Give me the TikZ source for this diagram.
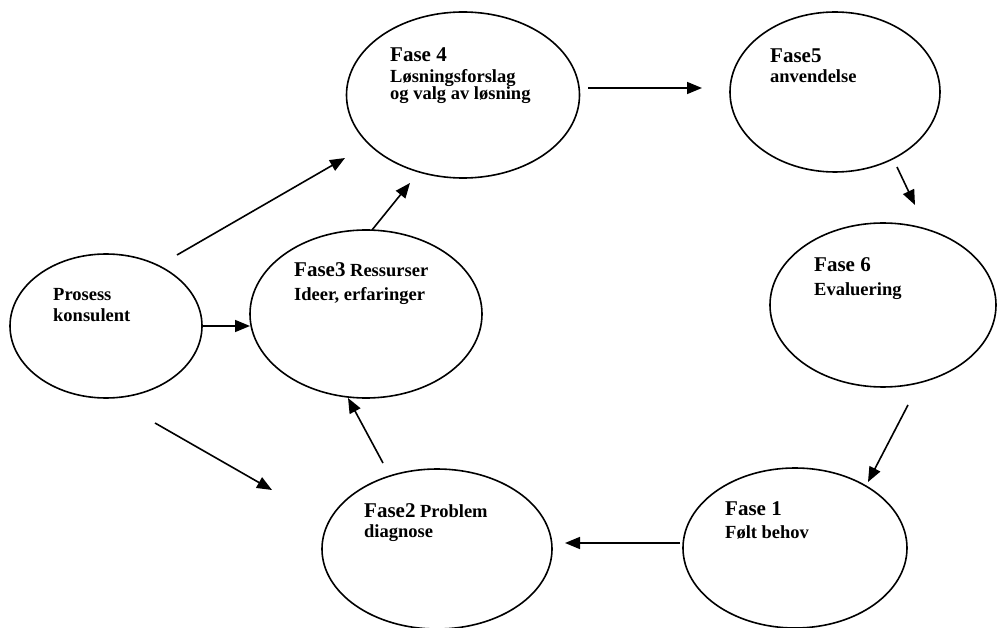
\documentclass[tikz,border=0pt]{standalone}
\usepackage{fontspec}
\setmainfont{Liberation Serif}
\usetikzlibrary{shapes.geometric,arrows.meta}
\begin{document}
\begin{tikzpicture}[x=1pt,y=-1pt,
  phase/.style={draw,ellipse,line width=1.6pt,inner sep=0pt},
  lbl/.style={anchor=base west,align=left,inner sep=0pt,font=\bfseries\fontsize{18.5}{20}\selectfont},
  conn/.style={line width=1.6pt,-{Triangle[length=15pt,width=12pt]}}]
\useasboundingbox (0,0) rectangle (997,628);
\newcommand{\fhead}[1]{{\fontsize{21}{21}\selectfont #1}}
% ellipses
\node[phase,minimum width=192pt,minimum height=144pt] (pk) at (106,326) {};
\node[phase,minimum width=232pt,minimum height=168pt] (f3) at (366,314) {};
\node[phase,minimum width=233pt,minimum height=166pt] (f4) at (463,95) {};
\node[phase,minimum width=210pt,minimum height=160pt] (f5) at (835,92) {};
\node[phase,minimum width=226pt,minimum height=164pt] (f6) at (883,305) {};
\node[phase,minimum width=224pt,minimum height=160pt] (f1) at (795,548) {};
\node[phase,minimum width=230pt,minimum height=160pt] (f2) at (437,549) {};
% labels (anchored at the baseline of their last line)
\node[lbl] (tpk) at (53,322) {Prosess\\[1pt]konsulent};
\node[lbl] (tf3) at (294,301) {\fhead{Fase3} Ressurser\\[4pt]Ideer, erfaringer};
\node[lbl] (tf4) at (390,100) {\fhead{Fase 4}\\[1pt]Løsningsforslag\\[-3pt]og valg av løsning};
\node[lbl] (tf5) at (770,83) {\fhead{Fase5}\\anvendelse};
\node[lbl] (tf6) at (814,296) {\fhead{Fase 6}\\[4pt]Evaluering};
\node[lbl] (tf1) at (725,538) {\fhead{Fase 1}\\[3pt]Følt behov};
\node[lbl] (tf2) at (364,537) {\fhead{Fase2} Problem\\diagnose};
% connector ends
\coordinate (a1s) at (177,255); \coordinate (a1e) at (345,158);
\coordinate (a2s) at (203,326); \coordinate (a2e) at (250,326);
\coordinate (a3s) at (155,423); \coordinate (a3e) at (272,490);
\coordinate (a4s) at (372,230); \coordinate (a4e) at (410,183);
\coordinate (a5s) at (383,463); \coordinate (a5e) at (348,398);
\coordinate (a6s) at (680,543); \coordinate (a6e) at (565,543);
\coordinate (a7s) at (908,405); \coordinate (a7e) at (868,482);
\coordinate (a8s) at (588,88);  \coordinate (a8e) at (702,88);
\coordinate (a9s) at (897,167); \coordinate (a9e) at (915,205);
\draw[conn] (a1s) -- (a1e);
\draw[conn] (a2s) -- (a2e);
\draw[conn] (a3s) -- (a3e);
\draw[conn] (a4s) -- (a4e);
\draw[conn] (a5s) -- (a5e);
\draw[conn] (a6s) -- (a6e);
\draw[conn] (a7s) -- (a7e);
\draw[conn] (a8s) -- (a8e);
\draw[conn] (a9s) -- (a9e);
\end{tikzpicture}
\end{document}
